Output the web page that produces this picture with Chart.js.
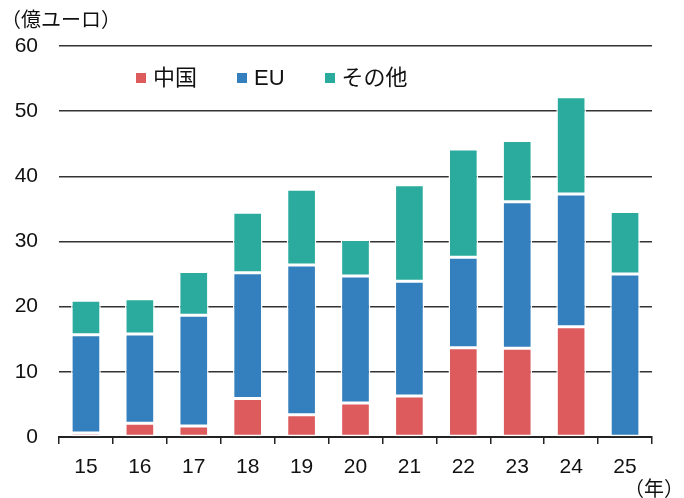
<!DOCTYPE html>
<html>
<head>
<meta charset="utf-8">
<script src="https://cdn.jsdelivr.net/npm/chart.js@4.4.1/dist/chart.umd.min.js"></script>
<style>
  html, body { margin: 0; padding: 0; background: #fff; }
  #wrap { position: relative; width: 684px; height: 498px; }
  #legend { position: absolute; top: 64px; left: 136px; display: flex; line-height: 28px; font-family: "Liberation Sans", "Noto Sans CJK JP", sans-serif; font-size: 22px; color: #111; }
  #legend .item { display: flex; align-items: center; margin-right: 40px; }
  #legend .box { width: 10px; height: 10px; margin-right: 7px; }
</style>
</head>
<body>
<div id="wrap">
  <canvas id="c" width="684" height="498"></canvas>
  <div id="legend"></div>
</div>
<script>
const years = ["15", "16", "17", "18", "19", "20", "21", "22", "23", "24", "25"];
const china = [0.6, 2.1, 1.7, 5.9, 3.4, 5.2, 6.3, 13.7, 13.6, 16.9, 0];
const eu    = [15.1, 13.7, 17.0, 19.3, 23.0, 19.5, 17.6, 13.9, 22.5, 20.4, 25.0];
const other = [5.3, 5.4, 6.7, 9.3, 11.6, 5.6, 14.8, 16.6, 9.4, 14.9, 9.6];
const yTicks = [0, 10, 20, 30, 40, 50, 60];

const series = [
    { label: "中国", data: china, color: "#dd5b5d" },
    { label: "EU", data: eu, color: "#347fbd" },
    { label: "その他", data: other, color: "#2aab9e" }
];

// 凡例（HTML）
const legend = document.getElementById("legend");
series.forEach(s => {
    const item = document.createElement("div");
    item.className = "item";
    item.innerHTML = `<span class="box" style="background:${s.color}"></span><span>${s.label}</span>`;
    legend.appendChild(item);
});

const textFont = '"Liberation Sans", Arial, sans-serif';

const unitLabels = {
    id: "unitLabels",
    afterDraw(chart) {
        const ctx = chart.ctx;
        ctx.save();
        ctx.fillStyle = "#111";
        ctx.font = '20px "Noto Sans CJK JP", sans-serif';
        ctx.textBaseline = "middle";
        ctx.textAlign = "left";
        ctx.fillText("（億ユーロ）", 1, 19);
        ctx.textAlign = "right";
        ctx.fillText("（年）", 684, 488);
        ctx.restore();
    }
};

new Chart(document.getElementById("c"), {
    type: "bar",
    data: {
        labels: years,
        datasets: series.map(s => ({
            label: s.label,
            data: s.data,
            backgroundColor: s.color,
            borderColor: "#ffffff",
            borderWidth: 1.5,
            borderSkipped: false,
            barPercentage: 0.55,
            categoryPercentage: 1.0
        }))
    },
    options: {
        responsive: false,
        animation: false,
        layout: { padding: { top: 46, right: 32, bottom: 0, left: 0 } },
        plugins: {
            legend: { display: false },
            tooltip: { enabled: false }
        },
        scales: {
            x: {
                stacked: true,
                offset: true,
                grid: {
                    offset: true,
                    drawOnChartArea: false,
                    drawTicks: true,
                    tickLength: 7,
                    color: "#222",
                    lineWidth: 1.5
                },
                border: { color: "#222", width: 2 },
                ticks: { color: "#111", font: { family: textFont, size: 21 }, padding: 11 },
                afterFit(scale) { scale.height = 61; }
            },
            y: {
                stacked: true,
                min: 0,
                max: 60,
                afterBuildTicks(scale) { scale.ticks = yTicks.map(v => ({ value: v })); },
                grid: { color: "#333", lineWidth: 1.5, drawTicks: false },
                border: { display: false },
                ticks: { color: "#111", font: { family: textFont, size: 21 }, padding: 21 },
                afterFit(scale) { scale.width = 59; }
            }
        }
    },
    plugins: [unitLabels]
});
</script>
</body>
</html>
